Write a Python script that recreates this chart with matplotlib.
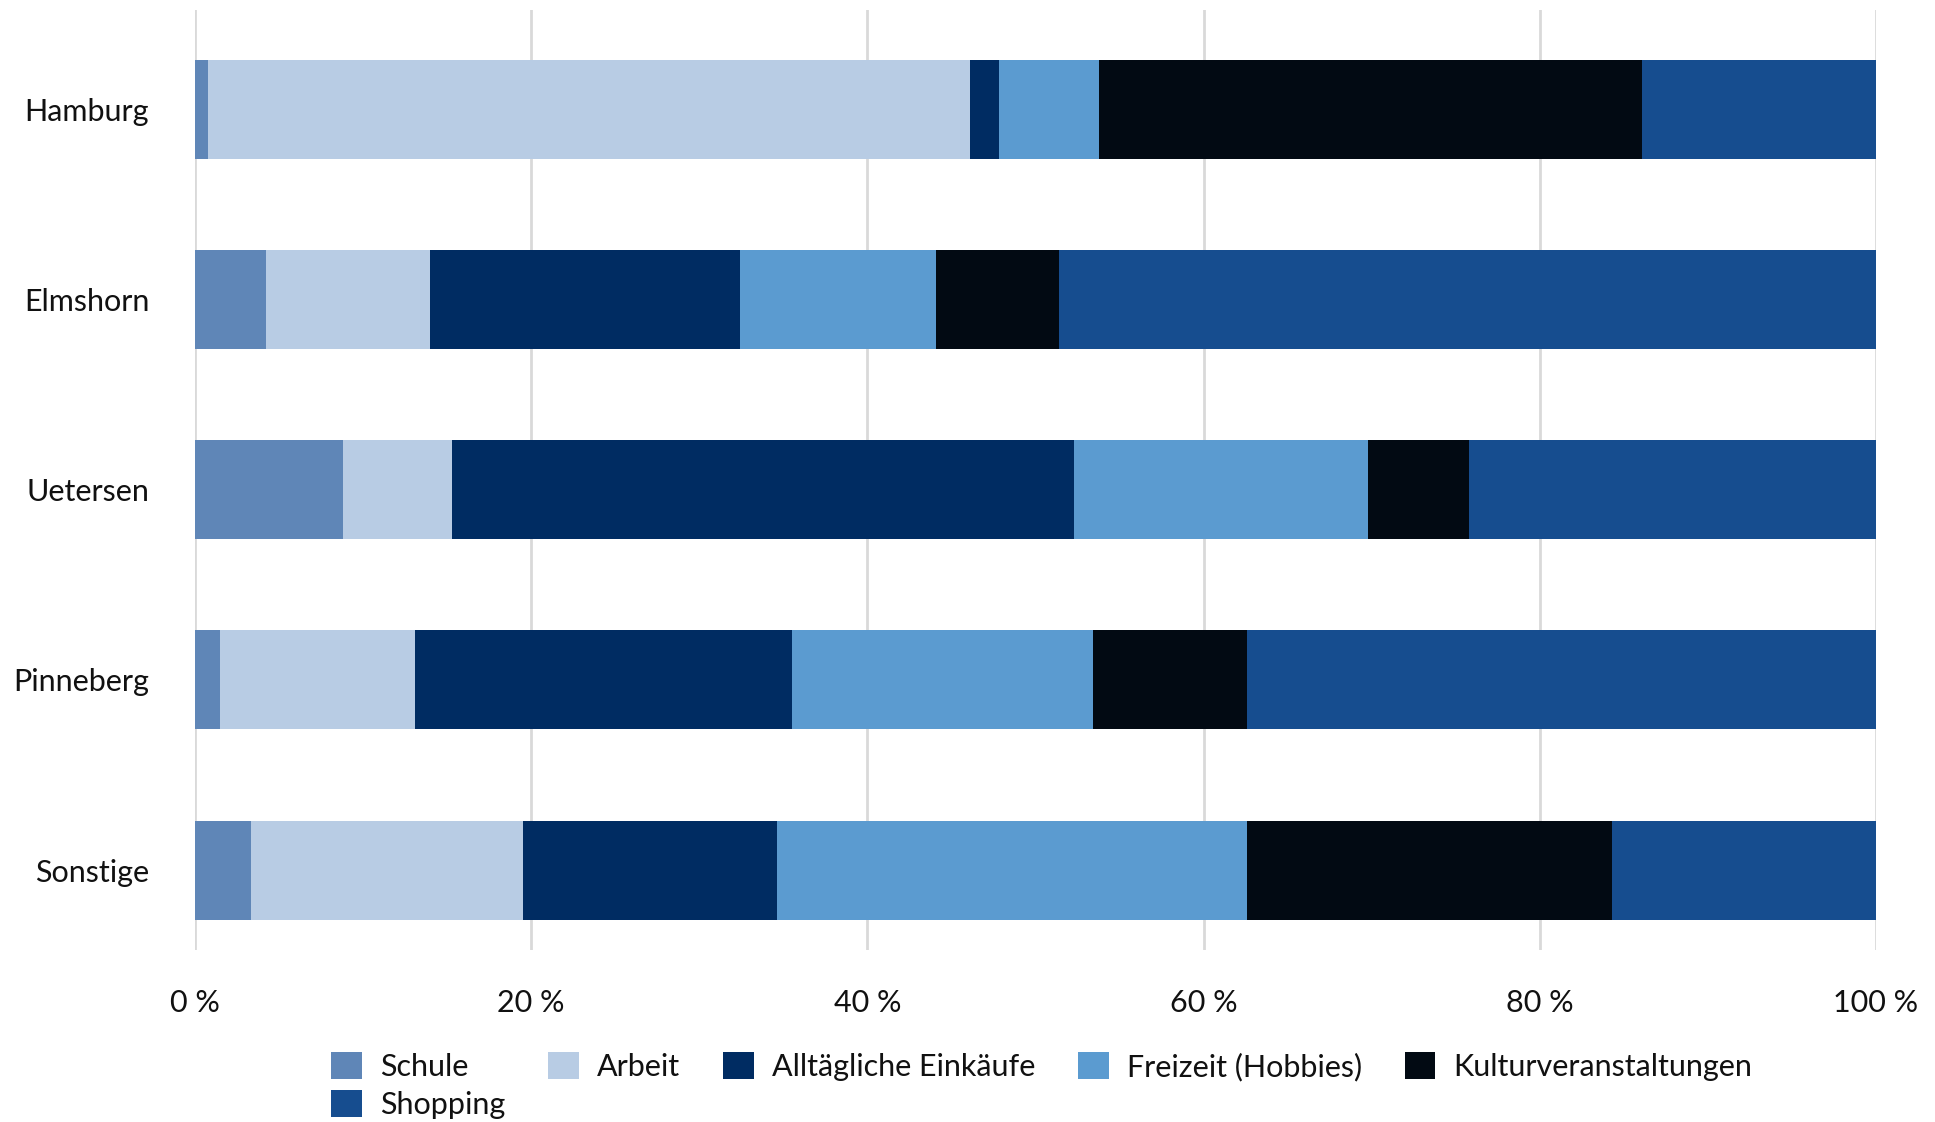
import matplotlib
matplotlib.use("Agg")
import matplotlib.pyplot as plt
from matplotlib.ticker import FuncFormatter

plt.rcParams['font.family'] = ['Lato', 'DejaVu Sans']

orte = ['Hamburg', 'Elmshorn', 'Uetersen', 'Pinneberg', 'Sonstige']
zwecke = ['Schule', 'Arbeit', 'Alltägliche Einkäufe', 'Freizeit (Hobbies)',
          'Kulturveranstaltungen', 'Shopping']

schule = [0.8, 4.2, 8.8, 1.5, 3.3]
arbeit = [45.3, 9.8, 6.5, 11.6, 16.2]
einkaeufe = [1.7, 18.4, 37.0, 22.4, 15.1]
freizeit = [6.0, 11.7, 17.5, 17.9, 28.0]
kultur = [32.3, 7.3, 6.0, 9.2, 21.7]
shopping = [13.9, 48.6, 24.2, 37.4, 15.7]

farben = ['#5f86b7', '#b8cce4', '#002c62', '#5b9bd0', '#020a13', '#164d8f']

fig = plt.figure(figsize=(19.35, 11.22), dpi=100)
ax = fig.add_axes([0.1008, 0.1533, 0.8687, 0.8377])

y = list(range(len(orte)))
links = [0.0] * len(orte)
balken = []
for name, werte, farbe in zip(zwecke, [schule, arbeit, einkaeufe, freizeit, kultur, shopping], farben):
    b = ax.barh(y, werte, left=links, height=0.52, color=farbe, label=name, zorder=3)
    balken.append(b)
    links = [a + b for a, b in zip(links, werte)]

ax.set_xlim(0, 100)
ax.set_ylim(4.42, -0.52)
ax.set_xticks([0, 20, 40, 60, 80, 100])
ax.xaxis.set_major_formatter(FuncFormatter(lambda v, p: f'{v:.0f} %'))
ax.set_yticks(y)
ax.set_yticklabels(orte)
ax.grid(axis='x', color='#d9d9d9', linewidth=2, zorder=0)
ax.tick_params(axis='both', length=0, labelsize=22, colors='#111111')
ax.tick_params(axis='x', pad=28)
ax.tick_params(axis='y', pad=33)
for s in ax.spines.values():
    s.set_visible(False)

# matplotlib fuellt spaltenweise, daher Reihenfolge fuer zeilenweise Anordnung umstellen
reihenfolge = [0, 5, 1, 2, 3, 4]
fig.legend([balken[i] for i in reihenfolge], [zwecke[i] for i in reihenfolge],
           loc='center left', bbox_to_anchor=(0.157, 0.0325), ncol=5, frameon=False,
           fontsize=22, handlelength=1.0, handleheight=1.0, handletextpad=0.6,
           columnspacing=1.4, labelspacing=0.3, labelcolor='#111111')

fig.savefig('out.png', dpi=100)
